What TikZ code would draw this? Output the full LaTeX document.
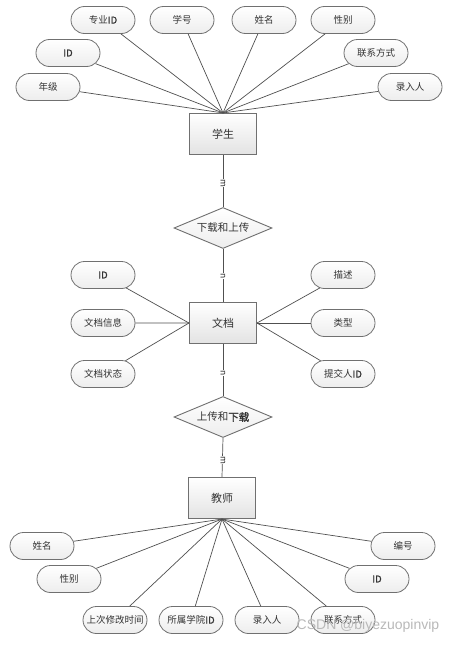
\documentclass[tikz,border=0pt]{standalone}
\usepackage{fontspec}
\setmainfont{Noto Sans CJK SC}
\newfontfamily\cjkb{Noto Sans CJK SC}[FakeBold=1.5]
\newfontfamily\wmfont{Liberation Sans}
\usetikzlibrary{shapes.misc,shapes.geometric}
\definecolor{linec}{HTML}{505050}
\definecolor{bordc}{HTML}{707070}
\begin{document}
\begin{tikzpicture}[x=1pt,y=-1pt,
  attr/.style={rounded rectangle, draw=bordc, line width=0.8pt, minimum width=66pt, minimum height=27pt, inner sep=1pt,
     top color=white, bottom color=gray!14, font=\fontsize{9.5}{11}\selectfont, text=black!80},
  ent/.style={rectangle, draw=bordc, line width=1.1pt, minimum width=67pt, minimum height=41pt,
     top color=white, bottom color=gray!22, font=\fontsize{11}{13}\selectfont, text=black!80},
  rel/.style={diamond, draw=bordc, line width=0.9pt, aspect=2.4, minimum width=98pt, minimum height=41pt, inner sep=0pt,
     top color=white, bottom color=gray!14, font=\fontsize{10.5}{12}\selectfont, text=black!80},
  conn/.style={draw=linec, line width=0.7pt},
  cardlab/.style={rotate=-90, fill=white, inner sep=0.3pt, font=\fontsize{8.5}{9}\selectfont, text=black!85}]
\useasboundingbox (0,0) rectangle (471,645);
\fill[white] (0,0) rectangle (471,645);

% entities and relations
\node[ent] (stu) at (223,134) {学生};
\node[rel] (r1) at (223,228) {下载和上传};
\node[ent] (doc) at (223,323) {文档};
\node[rel] (r2) at (223,417) {上传和{\cjkb 下载}};
\node[ent] (tea) at (222,498) {教师};

% student attributes
\node[attr] (s1) at (103,20) {专业{\cjkb ID}};
\node[attr] (s2) at (182,20) {学号};
\node[attr] (s3) at (264,20) {姓名};
\node[attr] (s4) at (343,20) {性别};
\node[attr] (s5) at (68,53) {\cjkb ID};
\node[attr] (s6) at (376,53) {联系方式};
\node[attr] (s7) at (48,87) {年级};
\node[attr] (s8) at (410,87) {录入人};
\foreach \a in {s1,s2,s3,s4,s5,s6,s7,s8} \draw[conn] (\a) -- (stu.north);

% document attributes
\node[attr] (d1) at (103,275) {\cjkb ID};
\node[attr] (d2) at (103,323) {文档信息};
\node[attr] (d3) at (103,374) {文档状态};
\node[attr] (d4) at (343,275) {描述};
\node[attr] (d5) at (343,323) {类型};
\node[attr] (d6) at (343,374) {提交人{\cjkb ID}};
\foreach \a in {d1,d2,d3} \draw[conn] (\a) -- (doc.west);
\foreach \a in {d4,d5,d6} \draw[conn] (\a) -- (doc.east);

% teacher attributes
\node[attr] (t1) at (42,546) {姓名};
\node[attr] (t2) at (69,579) {性别};
\node[attr] (t3) at (115,620) {上次修改时间};
\node[attr] (t4) at (191,620) {所属学院{\cjkb ID}};
\node[attr] (t5) at (267,620) {录入人};
\node[attr] (t6) at (343,620) {联系方式};
\node[attr] (t7) at (377,579) {\cjkb ID};
\node[attr] (t8) at (403,546) {编号};
\foreach \a in {t1,t2,t3,t4,t5,t6,t7,t8} \draw[conn] (\a) -- (tea.south);

% relationship connectors
\draw[conn] (stu.south) -- (r1.north);
\draw[conn] (r1.south) -- (doc.north);
\draw[conn] (doc.south) -- (r2.north);
\draw[conn] (r2.south) -- (tea.north);
\node[cardlab] (c1) at (223,183) {m};
\node[cardlab] (c2) at (223,276) {n};
\node[cardlab] (c3) at (223,373) {n};
\node[cardlab] (c4) at (223,460) {m};

% watermark
\node[font=\wmfont\fontsize{14}{16}\selectfont, text=gray!55] (wm) at (368,626) {CSDN @biyezuopinvip};
\end{tikzpicture}
\end{document}
